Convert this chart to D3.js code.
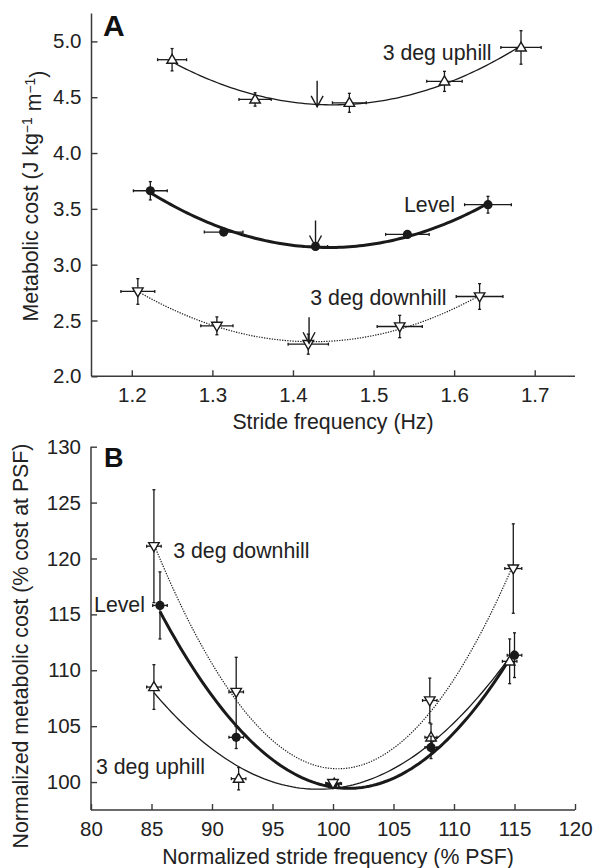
<!DOCTYPE html>
<html>
<head>
<meta charset="utf-8">
<script src="https://cdn.jsdelivr.net/npm/d3@7"></script>
<style>
html,body{margin:0;padding:0;background:#fff;}
svg{display:block;font-family:"Liberation Sans",Arial,Helvetica,sans-serif;}
</style>
</head>
<body>
<svg id="chart" width="598" height="868"></svg>
<script>
// ---------- Panel A data ----------
const aXTicks = [1.2, 1.3, 1.4, 1.5, 1.6, 1.7];
const aYTicks = [2.0, 2.5, 3.0, 3.5, 4.0, 4.5, 5.0];

const upA_freq    = [1.250, 1.353, 1.470, 1.588, 1.683];
const upA_cost    = [4.836, 4.480, 4.450, 4.642, 4.946];
const upA_freqErr = [0.018, 0.020, 0.021, 0.022, 0.025];
const upA_costErr = [0.10, 0.06, 0.085, 0.09, 0.15];

const lvA_freq    = [1.223, 1.314, 1.428, 1.542, 1.642];
const lvA_cost    = [3.662, 3.292, 3.163, 3.271, 3.537];
const lvA_freqErr = [0.021, 0.024, 0.015, 0.027, 0.029];
const lvA_costErr = [0.082, 0.03, 0.03, 0.03, 0.075];

const dnA_freq    = [1.2075, 1.3056, 1.419, 1.5325, 1.6316];
const dnA_cost    = [2.760, 2.452, 2.288, 2.446, 2.715];
const dnA_freqErr = [0.021, 0.020, 0.025, 0.028, 0.029];
const dnA_costErr = [0.115, 0.08, 0.09, 0.10, 0.115];

// predicted optimal (arrows)
const optA_freq = [1.430, 1.428, 1.420];
const optA_cost = [4.414, 3.163, 2.296];

// ---------- Panel B data ----------
const bXTicks = [80, 85, 90, 95, 100, 105, 110, 115, 120];
const bYTicks = [100, 105, 110, 115, 120, 125, 130];

const upB_sf      = [85.2, 92.2, 100.1, 108.1, 114.6];
const upB_cost    = [108.5, 100.3, 99.86, 104.0, 110.8];
const upB_sfErr   = [0.6, 0.6, 0.6, 0.5, 0.6];
const upB_costErr = [2.0, 1.0, 0.3, 1.2, 2.0];

const lvB_sf      = [85.7, 92.0, 100.0, 108.1, 115.0];
const lvB_cost    = [115.8, 104.0, 99.8, 103.1, 111.35];
const lvB_sfErr   = [0.6, 0.6, 0.5, 0.5, 0.6];
const lvB_costErr = [3.0, 1.0, 0.3, 1.0, 2.0];

const dnB_sf      = [85.2, 92.0, 100.0, 108.0, 114.9];
const dnB_cost    = [121.1, 108.06, 99.9, 107.3, 119.1];
const dnB_sfErr   = [0.6, 0.6, 0.6, 0.6, 0.7];
const dnB_costErr = [5.05, 3.1, 0.3, 2.0, 4.0];

const seriesNames = ["3 deg uphill", "Level", "3 deg downhill"];

// ---------- helpers ----------
function quadFit(xs, ys) {
  // least-squares quadratic fit y = a + b t + c t^2, t = x - mean
  const m = d3.mean(xs);
  let S = [0,0,0,0,0], T = [0,0,0];
  xs.forEach((x,i)=>{ const t=x-m; let p=1; for(let k=0;k<5;k++){S[k]+=p; if(k<3)T[k]+=p*ys[i]; p*=t;} });
  const A = [[S[0],S[1],S[2],T[0]],[S[1],S[2],S[3],T[1]],[S[2],S[3],S[4],T[2]]];
  for (let i=0;i<3;i++){ for(let j=i+1;j<3;j++){ const f=A[j][i]/A[i][i]; for(let k=i;k<4;k++) A[j][k]-=f*A[i][k]; } }
  const c=[0,0,0];
  for (let i=2;i>=0;i--){ let s=A[i][3]; for(let k=i+1;k<3;k++) s-=A[i][k]*c[k]; c[i]=s/A[i][i]; }
  return x => { const t=x-m; return c[0]+c[1]*t+c[2]*t*t; };
}

const svg = d3.select("#chart");
const ink = "#1a1a1a", axisCol = "#3a3a3a", textCol = "#222";
const FS = 20.5;   // tick labels
const LS = 21.3;   // titles and series labels

const styles = [
  {width:1.3, dash:null, marker:"up"},
  {width:3.0, dash:null, marker:"dot"},
  {width:1.2, dash:"1.3,1.3", marker:"down"}
];

function drawPanel(cfg) {
  const {x, y, xTicks, yTicks, fmtX, fmtY, series} = cfg;
  const g = svg.append("g");
  const x0 = x.range()[0], y0 = y.range()[0];
  const yAx = d3.axisLeft(y).tickValues(yTicks).tickSize(-6).tickPadding(10).tickFormat(fmtY);
  const xAx = d3.axisBottom(x).tickValues(xTicks).tickSize(-6).tickPadding(10).tickFormat(fmtX);
  const gy = g.append("g").attr("transform", `translate(${x0},0)`).call(yAx);
  const gx = g.append("g").attr("transform", `translate(0,${y0})`).call(xAx);
  [gx, gy].forEach(a => {
    a.select(".domain").remove();
    a.selectAll(".tick line").attr("stroke", axisCol).attr("stroke-width", 1.4);
    a.selectAll(".tick text").attr("fill", textCol).style("font-size", FS + "px").style("font-family", "inherit");
  });
  gx.selectAll(".tick text").attr("dy", "0.78em");
  g.append("line").attr("x1", x0).attr("x2", x0).attr("y1", y.range()[1]).attr("y2", y0)
    .attr("stroke", axisCol).attr("stroke-width", 1.5);
  g.append("line").attr("x1", x0).attr("x2", x.range()[1]).attr("y1", y0).attr("y2", y0)
    .attr("stroke", axisCol).attr("stroke-width", 1.5);

  series.forEach((s, si) => {
    const st = styles[si];
    const f = quadFit(s.x, s.y);
    const xmin = d3.min(s.x), xmax = d3.max(s.x);
    const pts = d3.range(0, 101).map(i => { const xv = xmin + (xmax - xmin) * i / 100; return [xv, f(xv)]; });
    g.append("path").attr("d", d3.line().x(d => x(d[0])).y(d => y(d[1]))(pts))
      .attr("fill", "none").attr("stroke", ink).attr("stroke-width", st.width)
      .attr("stroke-dasharray", st.dash);
  });
  series.forEach((s, si) => {
    const st = styles[si];
    s.x.forEach((xv, i) => {
      const px = x(xv), py = y(s.y[i]);
      const ex = s.xe[i], ey = s.ye[i];
      const eg = g.append("g").attr("stroke", ink).attr("stroke-width", 1.3);
      eg.append("line").attr("x1", x(xv - ex)).attr("x2", x(xv + ex)).attr("y1", py).attr("y2", py);
      eg.append("line").attr("x1", px).attr("x2", px).attr("y1", y(s.y[i] - ey)).attr("y2", y(s.y[i] + ey));
      [xv - ex, xv + ex].forEach(v => eg.append("line").attr("x1", x(v)).attr("x2", x(v)).attr("y1", py - 1.5).attr("y2", py + 1.5));
      [s.y[i] - ey, s.y[i] + ey].forEach(v => eg.append("line").attr("x1", px - 1.5).attr("x2", px + 1.5).attr("y1", y(v)).attr("y2", y(v)));
      if (st.marker === "dot") {
        g.append("circle").attr("cx", px).attr("cy", py).attr("r", 4.6).attr("fill", ink);
      } else {
        const h = 9, w = 10.5;
        const d = st.marker === "up"
          ? `M${px},${py - h*0.6} L${px + w/2},${py + h*0.4} L${px - w/2},${py + h*0.4} Z`
          : `M${px},${py + h*0.6} L${px + w/2},${py - h*0.4} L${px - w/2},${py - h*0.4} Z`;
        g.append("path").attr("d", d).attr("fill", "#fff").attr("stroke", ink).attr("stroke-width", 1.4);
      }
    });
  });
  return g;
}

// ---------- Panel A ----------
const xA = d3.scaleLinear().domain([1.15, 1.75]).range([91.5, 575]);
const yA = d3.scaleLinear().domain([2.0, 5.25]).range([376.3, 13.5]);
const gA = drawPanel({
  x: xA, y: yA, xTicks: aXTicks, yTicks: aYTicks,
  fmtX: d3.format(".1f"), fmtY: d3.format(".1f"),
  series: [
    {x: upA_freq, y: upA_cost, xe: upA_freqErr, ye: upA_costErr},
    {x: lvA_freq, y: lvA_cost, xe: lvA_freqErr, ye: lvA_costErr},
    {x: dnA_freq, y: dnA_cost, xe: dnA_freqErr, ye: dnA_costErr}
  ]
});
optA_freq.forEach((f, i) => {
  const px = xA(f), py = yA(optA_cost[i]);
  gA.append("path").attr("d", `M${px},${py - 26} L${px},${py} M${px - 6},${py - 11} L${px},${py} L${px + 6},${py - 11}`)
    .attr("fill", "none").attr("stroke", ink).attr("stroke-width", 1.4);
});
const labA = [
  {t: seriesNames[0], x: 1.6465, y: 4.905, a: "end"},
  {t: seriesNames[1], x: 1.601, y: 3.537, a: "end"},
  {t: seriesNames[2], x: 1.5905, y: 2.703, a: "end"}
];
labA.forEach(l => gA.append("text").attr("x", xA(l.x)).attr("y", yA(l.y)).attr("dy", "0.36em")
  .attr("text-anchor", l.a).attr("fill", textCol).style("font-size", LS + "px").text(l.t));
gA.append("text").attr("x", 103).attr("y", 36).attr("fill", "#111").style("font-size", "30px").style("font-weight", "bold").text("A");
gA.append("text").attr("x", 333).attr("y", 429).attr("text-anchor", "middle").attr("fill", textCol)
  .style("font-size", LS + "px").text("Stride frequency (Hz)");
const ylA = gA.append("text").attr("transform", "translate(38,196) rotate(-90)").attr("text-anchor", "middle")
  .attr("fill", textCol).style("font-size", LS + "px");
ylA.append("tspan").text("Metabolic cost (J kg");
ylA.append("tspan").attr("dy", "-0.45em").style("font-size", "14px").text("\u22121");
ylA.append("tspan").attr("dy", "0.45em").text(" m");
ylA.append("tspan").attr("dy", "-0.45em").style("font-size", "14px").text("\u22121");
ylA.append("tspan").attr("dy", "0.45em").text(")");

// ---------- Panel B ----------
const xB = d3.scaleLinear().domain([80, 120]).range([91, 575]);
const yB = d3.scaleLinear().domain([97.5, 130]).range([810, 446.7]);
const gB = drawPanel({
  x: xB, y: yB, xTicks: bXTicks, yTicks: bYTicks,
  fmtX: d3.format("d"), fmtY: d3.format("d"),
  series: [
    {x: upB_sf, y: upB_cost, xe: upB_sfErr, ye: upB_costErr},
    {x: lvB_sf, y: lvB_cost, xe: lvB_sfErr, ye: lvB_costErr},
    {x: dnB_sf, y: dnB_cost, xe: dnB_sfErr, ye: dnB_costErr}
  ]
});
const labB = [
  {t: seriesNames[0], x: 80.41, y: 101.38, a: "start"},
  {t: seriesNames[1], x: 84.46, y: 115.93, a: "end"},
  {t: seriesNames[2], x: 86.8, y: 120.76, a: "start"}
];
labB.forEach(l => gB.append("text").attr("x", xB(l.x)).attr("y", yB(l.y)).attr("dy", "0.36em")
  .attr("text-anchor", l.a).attr("fill", textCol).style("font-size", LS + "px").text(l.t));
gB.append("text").attr("x", 104).attr("y", 467).attr("fill", "#111").style("font-size", "27px").style("font-weight", "bold").text("B");
gB.append("text").attr("x", 338).attr("y", 864).attr("text-anchor", "middle").attr("fill", textCol)
  .style("font-size", LS + "px").text("Normalized stride frequency (% PSF)");
gB.append("text").attr("transform", "translate(28,646) rotate(-90)").attr("text-anchor", "middle")
  .attr("fill", textCol).style("font-size", LS + "px").text("Normalized metabolic cost (% cost at PSF)");
</script>
</body>
</html>
